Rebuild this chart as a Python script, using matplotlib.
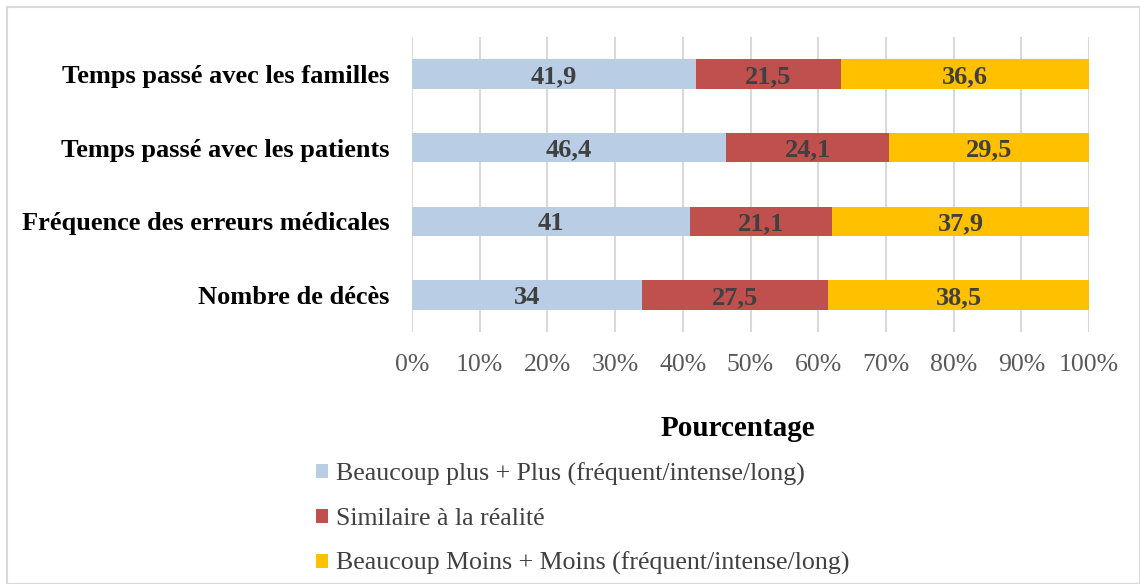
import matplotlib

matplotlib.use("Agg")
import matplotlib.pyplot as plt
from matplotlib.patches import Rectangle

# data (percent, stacked to 100)
categories = [
    "Nombre de décès",
    "Fréquence des erreurs médicales",
    "Temps passé avec les patients",
    "Temps passé avec les familles",
]
plus = [34, 41, 46.4, 41.9]
similaire = [27.5, 21.1, 24.1, 21.5]
moins = [38.5, 37.9, 29.5, 36.6]
series_labels = [
    "Beaucoup plus + Plus (fréquent/intense/long)",
    "Similaire à la réalité",
    "Beaucoup Moins + Moins (fréquent/intense/long)",
]
colors = ["#B9CDE5", "#C0504D", "#FFC000"]
xticks = list(range(0, 101, 10))

plt.rcParams["font.family"] = ["Liberation Serif", "DejaVu Serif"]

fig = plt.figure(figsize=(11.4, 5.84), dpi=100)
fig.patches.append(Rectangle((7 / 1140, 0), 1 - 7 / 1140, 1 - 7 / 584, transform=fig.transFigure,
                             fill=False, edgecolor="#D9D9D9", linewidth=1.5))
ax = fig.add_axes([412 / 1140, 1 - 332 / 584, 677 / 1140, 295 / 584])

y = list(range(len(categories)))
left = [0] * len(categories)
bars = []
for vals, col, lab in zip([plus, similaire, moins], colors, series_labels):
    b = ax.barh(y, vals, left=left, height=0.4, color=col, label=lab, zorder=3)
    bars.append(b)
    for yi, l, v in zip(y, left, vals):
        txt = f"{v:g}".replace(".", ",")
        ax.text(l + v / 2, yi, txt, ha="center", va="center_baseline", fontsize=19,
                fontweight="bold", color="#404040", zorder=4)
    left = [a + v for a, v in zip(left, vals)]

ax.set_xlim(0, 100)
ax.set_ylim(-0.5, 3.5)
ax.set_xticks(xticks)
ax.set_xticklabels([f"{t}%" for t in xticks], fontsize=18.5, color="#595959")
ax.set_yticks(y)
ax.set_yticklabels(categories, fontsize=19, fontweight="bold", color="black")
for t in ax.get_yticklabels():
    t.set_verticalalignment("center_baseline")
ax.tick_params(axis="both", length=0)
ax.tick_params(axis="x", pad=16)
ax.tick_params(axis="y", pad=16)
ax.grid(True, axis="x", color="#D9D9D9", linewidth=1.5, zorder=0)
for s in ax.spines.values():
    s.set_visible(False)

fig.text(738 / 1140, 1 - 428 / 584, "Pourcentage", ha="center", va="center",
         fontsize=21, fontweight="bold", color="black")

fig.legend(handles=bars, labels=series_labels, loc="upper left",
           bbox_to_anchor=(293 / 1140, 1 - 439 / 584), frameon=False,
           fontsize=18.6, handlelength=0.45, handleheight=0.45, handletextpad=0.3,
           labelspacing=0.86, labelcolor="#404040")

fig.savefig("out.png", dpi=100)
